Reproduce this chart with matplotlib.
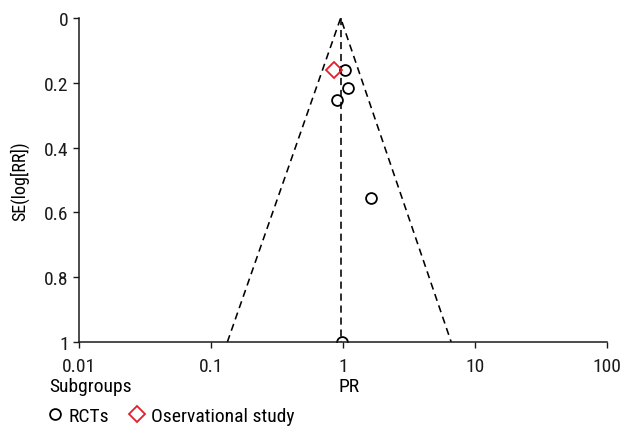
import matplotlib.pyplot as plt
from matplotlib.lines import Line2D
from matplotlib import font_manager

rct_pr = [1.035, 1.086, 0.896, 1.63, 0.98]
rct_se = [0.16, 0.216, 0.253, 0.556, 1.0]
obs_pr = [0.859]
obs_se = [0.16]

pooled_pr = 0.96      # vértice del embudo / línea vertical
funnel_low = 0.133    # límite inferior en SE = 1
funnel_high = 6.6     # límite superior en SE = 1

x_ticks = [0.01, 0.1, 1, 10, 100]
x_tick_labels = ['0.01', '0.1', '1', '10', '100']
y_ticks = [0, 0.2, 0.4, 0.6, 0.8, 1]
y_tick_labels = ['0', '0.2', '0.4', '0.6', '0.8', '1']

# Fuente estrecha si está disponible
names = {f.name for f in font_manager.fontManager.ttflist}
fams = [f for f in ['Roboto Condensed', 'PT Sans Narrow', 'Archivo Narrow'] if f in names]
plt.rcParams['font.family'] = fams[:1] + ['DejaVu Sans']

fig = plt.figure(figsize=(6.25, 4.27), dpi=100)
ax = fig.add_axes([0.1264, 0.1967, 0.8448, 0.7588])

# Embudo y línea del efecto combinado
ax.plot([funnel_low, pooled_pr, funnel_high], [1, 0, 1], ls=(0, (4.5, 3)), color='black', lw=1.15)
ax.plot([pooled_pr, pooled_pr], [0, 1], ls=(0, (4.5, 3)), color='black', lw=1.15)

ax.plot(rct_pr, rct_se, 'o', mfc='none', mec='black', ms=7.8, mew=1.3, zorder=3)
ax.plot(obs_pr, obs_se, 'D', mfc='none', mec='#e0202a', ms=8, mew=1.3, zorder=3)

ax.set_xscale('log')
ax.set_xlim(0.01, 100)
ax.set_ylim(1, 0)
ax.set_xticks(x_ticks)
ax.set_xticklabels(x_tick_labels)
ax.minorticks_off()
ax.set_yticks(y_ticks)
ax.set_yticklabels(y_tick_labels)
ax.tick_params(direction='out', length=4.5, width=1, labelsize=14, pad=3, colors='#1a1a1a')
ax.tick_params(axis='x', pad=6)
for s in ['top', 'right']:
    ax.spines[s].set_visible(False)
for s in ['left', 'bottom']:
    ax.spines[s].set_linewidth(1.1)
    ax.spines[s].set_color('#1a1a1a')
ax.spines['bottom'].set_zorder(4)

ax.set_ylabel('SE(log[RR])', fontsize=13, labelpad=11)

fig.text(49 / 625, 1 - 387 / 427, 'Subgroups', fontsize=14, ha='left', va='center')
fig.text(349 / 625, 1 - 387 / 427, 'PR', fontsize=14, ha='center', va='center')

handles = [
    Line2D([], [], marker='o', ls='none', mfc='none', mec='black', ms=7.8, mew=1.3),
    Line2D([], [], marker='D', ls='none', mfc='none', mec='#e0202a', ms=8, mew=1.3),
]
fig.legend(handles, ['RCTs', 'Oservational study'], ncol=2, loc='center left',
           bbox_to_anchor=(46 / 625, 1 - 417 / 427), frameon=False, fontsize=14,
           handlelength=0.9, handletextpad=0.25, columnspacing=1.0, borderaxespad=0,
           borderpad=0)

fig.savefig('out.png', dpi=100)
